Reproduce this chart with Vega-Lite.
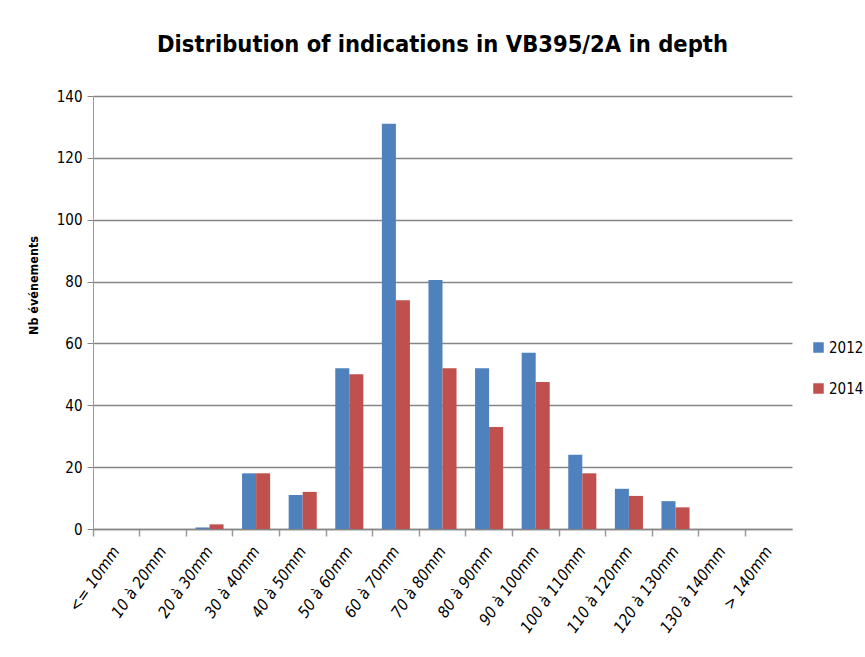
{
  "$schema": "https://vega.github.io/schema/vega-lite/v6.json",
  "width": 699,
  "height": 433,
  "autosize": {"type": "none"},
  "padding": {"left": 93, "top": 96, "right": 73, "bottom": 128},
  "background": "white",
  "title": {
    "text": "Distribution of indications in VB395/2A in depth",
    "font": "DejaVu Sans Condensed, sans-serif",
    "fontSize": 23.5,
    "fontWeight": "bold",
    "color": "#000000",
    "anchor": "middle",
    "offset": 33
  },
  "data": {
    "values": [
      {"cat": "<= 10mm", "year": "2012", "n": 0},
      {"cat": "<= 10mm", "year": "2014", "n": 0},
      {"cat": "10 à 20mm", "year": "2012", "n": 0},
      {"cat": "10 à 20mm", "year": "2014", "n": 0},
      {"cat": "20 à 30mm", "year": "2012", "n": 0.5},
      {"cat": "20 à 30mm", "year": "2014", "n": 1.5},
      {"cat": "30 à 40mm", "year": "2012", "n": 18},
      {"cat": "30 à 40mm", "year": "2014", "n": 18},
      {"cat": "40 à 50mm", "year": "2012", "n": 11},
      {"cat": "40 à 50mm", "year": "2014", "n": 12},
      {"cat": "50 à 60mm", "year": "2012", "n": 52},
      {"cat": "50 à 60mm", "year": "2014", "n": 50},
      {"cat": "60 à 70mm", "year": "2012", "n": 131},
      {"cat": "60 à 70mm", "year": "2014", "n": 74},
      {"cat": "70 à 80mm", "year": "2012", "n": 80.5},
      {"cat": "70 à 80mm", "year": "2014", "n": 52},
      {"cat": "80 à 90mm", "year": "2012", "n": 52},
      {"cat": "80 à 90mm", "year": "2014", "n": 33},
      {"cat": "90 à 100mm", "year": "2012", "n": 57},
      {"cat": "90 à 100mm", "year": "2014", "n": 47.5},
      {"cat": "100 à 110mm", "year": "2012", "n": 24},
      {"cat": "100 à 110mm", "year": "2014", "n": 18},
      {"cat": "110 à 120mm", "year": "2012", "n": 13},
      {"cat": "110 à 120mm", "year": "2014", "n": 10.7},
      {"cat": "120 à 130mm", "year": "2012", "n": 9},
      {"cat": "120 à 130mm", "year": "2014", "n": 7},
      {"cat": "130 à 140mm", "year": "2012", "n": 0},
      {"cat": "130 à 140mm", "year": "2014", "n": 0},
      {"cat": "> 140mm", "year": "2012", "n": 0},
      {"cat": "> 140mm", "year": "2014", "n": 0}
    ]
  },
  "mark": {"type": "bar"},
  "encoding": {
    "x": {
      "field": "cat",
      "type": "nominal",
      "sort": null,
      "scale": {"paddingInner": 0, "paddingOuter": 0},
      "axis": {
        "title": null,
        "labelAngle": -55,
        "labelAlign": "right",
        "labelBaseline": "middle",
        "labelFont": "DejaVu Sans Condensed, sans-serif",
        "labelFontStyle": "italic",
        "labelFontSize": 16,
        "labelColor": "#000000",
        "labelPadding": 12,
        "bandPosition": 0,
        "tickSize": 7,
        "tickColor": "#9a9a9a",
        "tickWidth": 1.5,
        "domainColor": "#868686",
        "domainWidth": 1.5,
        "grid": false
      }
    },
    "xOffset": {
      "field": "year",
      "type": "nominal",
      "scale": {"paddingInner": 0, "paddingOuter": 0.66}
    },
    "y": {
      "field": "n",
      "type": "quantitative",
      "scale": {"domain": [0, 140], "nice": false},
      "axis": {
        "title": "Nb événements",
        "titleFont": "DejaVu Sans Condensed, sans-serif",
        "titleFontSize": 12.5,
        "titleFontWeight": "bold",
        "titleColor": "#000000",
        "titlePadding": 16,
        "titleY": 189,
        "values": [0, 20, 40, 60, 80, 100, 120, 140],
        "labelFont": "DejaVu Sans Condensed, sans-serif",
        "labelFontSize": 15,
        "labelColor": "#000000",
        "labelPadding": 5,
        "tickSize": 6,
        "tickColor": "#868686",
        "domainColor": "#9a9a9a",
        "domainWidth": 1,
        "grid": true,
        "gridColor": "#868686",
        "gridWidth": 1.5,
        "gridOpacity": 1
      }
    },
    "color": {
      "field": "year",
      "type": "nominal",
      "scale": {"domain": ["2012", "2014"], "range": ["#4F81BD", "#C0504D"]},
      "legend": {
        "title": null,
        "orient": "none",
        "legendX": 718,
        "legendY": 244,
        "symbolType": "square",
        "symbolSize": 110,
        "symbolStrokeWidth": 0,
        "rowPadding": 25,
        "labelFont": "DejaVu Sans Condensed, sans-serif",
        "labelFontSize": 15,
        "labelColor": "#000000",
        "labelOffset": 3
      }
    }
  },
  "config": {
    "view": {"stroke": null}
  }
}
